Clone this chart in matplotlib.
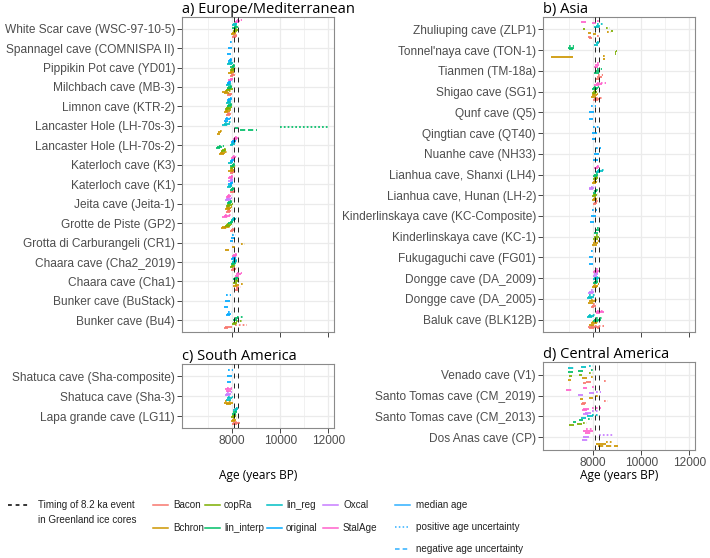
import matplotlib
matplotlib.use("Agg")
import matplotlib.pyplot as plt
from matplotlib.lines import Line2D

# methods, bottom -> top order inside each cave band
methods = ["Bacon", "Bchron", "copRa", "lin_interp", "lin_reg", "original", "Oxcal", "StalAge"]
method_colors = ["#F8766D", "#CD9600", "#7CAE00", "#00BE67", "#00BFC4", "#00A9FF", "#C77CFF", "#FF61CC"]
event_start, event_end = 8090, 8250   # Greenland 8.2 ka event (years BP)

# rows: method, median (lo, hi), positive (lo, hi), negative (lo, hi)
white_scar = [("Bacon", 8050, 8200, 8100, 8260, 8000, 8150), ("Bchron", 8000, 8150, 8050, 8220, 7950, 8100),
              ("copRa", 8080, 8250, 8120, 8300, 8030, 8200), ("lin_interp", 8060, 8240, 8100, 8280, 8000, 8180),
              ("lin_reg", 8050, 8200, 8100, 8250, 8000, 8150), ("StalAge", 8150, 8330, 8200, 8400, 8100, 8280)]
spannagel = [("original", 7850, 7980, 7900, 8020, 7800, 7940)]
pippikin = [("Bacon", 7950, 8100, 8000, 8150, 7900, 8050), ("Bchron", 7900, 8080, 7950, 8120, 7850, 8000),
            ("copRa", 7950, 8120, 8000, 8160, 7900, 8060), ("lin_interp", 7980, 8100, 8020, 8150, 7920, 8060),
            ("lin_reg", 7850, 8020, 7900, 8060, 7800, 7980), ("original", 7880, 8000, 7920, 8050, 7830, 7960)]
milchbach = [("Bacon", 7850, 8000, 7900, 8050, 7800, 7950), ("Bchron", 7600, 7850, 7700, 7950, 7650, 7900),
             ("copRa", 7800, 7980, 7850, 8030, 7750, 7930), ("lin_interp", 7850, 8000, 7900, 8050, 7780, 7950),
             ("lin_reg", 7800, 7950, 7850, 8000, 7750, 7900), ("original", 7820, 7970, 7870, 8020, 7770, 7920),
             ("StalAge", 7900, 8050, 7950, 8100, 7850, 8000)]
limnon = [("Bacon", 7800, 7950, 7850, 8000, 7750, 7900), ("Bchron", 7700, 7900, 7750, 7950, 7650, 7850),
          ("copRa", 7750, 7950, 7800, 8000, 7700, 7900), ("lin_interp", 7850, 8000, 7900, 8050, 7800, 7950),
          ("lin_reg", 7800, 7950, 7850, 8000, 7750, 7900), ("original", 7850, 8000, 7900, 8050, 7800, 7950)]
lancaster_3 = [("Bchron", 7420, 7550, 7500, 7640, 7380, 7500), ("lin_interp", 8100, 8250, 10000, 12000, 8330, 9040),
               ("lin_reg", 7650, 7900, 7700, 7950, 7600, 7850), ("original", 7700, 7900, 7750, 7950, 7650, 7850)]
lancaster_2 = [("Bchron", 7500, 7700, 7550, 7800, 7450, 7650), ("copRa", 7600, 7750, 7650, 7800, 7550, 7700),
               ("lin_interp", 7380, 7580, 7450, 7650, 7350, 7500), ("lin_reg", 7950, 8100, 8000, 8150, 7900, 8050),
               ("original", 8000, 8150, 8050, 8200, 7950, 8100), ("StalAge", 8080, 8250, 8120, 8300, 8050, 8200)]
katerloch_k3 = [("Bacon", 7950, 8100, 8000, 8150, 7900, 8050), ("Bchron", 7900, 8080, 7950, 8120, 7850, 8020),
                ("copRa", 7950, 8100, 8000, 8150, 7900, 8050), ("lin_interp", 7980, 8120, 8020, 8160, 7930, 8080),
                ("lin_reg", 7900, 8050, 7950, 8100, 7850, 8000), ("original", 7950, 8080, 8000, 8120, 7900, 8030),
                ("StalAge", 8000, 8150, 8050, 8200, 7950, 8100)]
katerloch_k1 = [("Bacon", 7950, 8100, 8000, 8150, 7900, 8050), ("lin_interp", 7950, 8080, 8000, 8120, 7900, 8030),
                ("lin_reg", 7850, 8000, 7900, 8050, 7800, 7950), ("original", 7900, 8050, 7950, 8100, 7850, 8000),
                ("Oxcal", 7900, 8050, 7950, 8100, 7850, 8000), ("StalAge", 7880, 8050, 7950, 8120, 7820, 7980)]
jeita = [("Bacon", 7800, 7950, 7850, 8000, 7750, 7900), ("Bchron", 7750, 7950, 7800, 8000, 7700, 7900),
         ("copRa", 7800, 7980, 7850, 8030, 7750, 7930), ("lin_interp", 7850, 8000, 7900, 8050, 7800, 7950),
         ("Oxcal", 7750, 7950, 7800, 8000, 7700, 7900), ("StalAge", 7800, 7950, 7850, 8000, 7750, 7900)]
grotte_piste = [("Bacon", 7950, 8100, 8000, 8150, 7900, 8050), ("Bchron", 7600, 7850, 7650, 7900, 7550, 7800),
                ("copRa", 7750, 7950, 7800, 8000, 7700, 7900), ("lin_interp", 7900, 8050, 7950, 8100, 7850, 8000),
                ("lin_reg", 8000, 8150, 8050, 8200, 7950, 8100), ("StalAge", 7650, 7900, 7700, 7950, 7600, 7850)]
carburangeli = [("Bchron", 8000, 8100, 8370, 8540, 7710, 7870), ("original", 7950, 8100, 8000, 8150, 7900, 8050)]
chaara_2019 = [("Bacon", 8000, 8150, 8050, 8200, 7950, 8100), ("copRa", 7950, 8100, 8000, 8150, 7900, 8050),
               ("lin_interp", 8000, 8150, 8050, 8200, 7950, 8100), ("lin_reg", 8050, 8200, 8100, 8250, 8000, 8150),
               ("original", 8000, 8150, 8050, 8200, 7950, 8100), ("StalAge", 8050, 8200, 8100, 8250, 8000, 8150)]
chaara_1 = [("Bacon", 8150, 8300, 8200, 8350, 8100, 8250), ("Bchron", 8100, 8300, 8350, 8450, 8050, 8200),
            ("copRa", 8100, 8250, 8150, 8300, 8050, 8200), ("lin_interp", 8100, 8250, 8150, 8300, 8050, 8200),
            ("StalAge", 8150, 8350, 8200, 8400, 8100, 8300)]
bunker_stack = [("original", 7700, 7900, 7750, 7950, 7650, 7850)]
bunker_bu4 = [("Bacon", 7700, 8000, 8100, 8600, 7650, 7850), ("copRa", 8050, 8200, 8150, 8450, 8000, 8150),
              ("lin_interp", 8100, 8250, 8200, 8500, 8050, 8200), ("original", 7800, 7950, 7850, 8000, 7750, 7900)]

zhuliuping = [("Bacon", 7800, 7900, 8150, 8250, 7850, 7950), ("Bchron", 7780, 7920, 8580, 8750, 8000, 8100),
              ("copRa", 7600, 7660, 8540, 8700, 8750, 8830), ("lin_reg", 8100, 8300, 8150, 8420, 8050, 8250),
              ("StalAge", 7500, 7700, 8150, 8300, 7950, 8100)]
tonnelnaya = [("Bchron", 6250, 7150, 8400, 8540, 8420, 8500), ("copRa", 8900, 8960, 8930, 8980, 8900, 8950),
              ("lin_interp", 6960, 7210, 6980, 7200, 7000, 7150), ("lin_reg", 8100, 8250, 8150, 8300, 8050, 8200)]
tianmen = [("Bacon", 8150, 8350, 8200, 8400, 8100, 8300), ("lin_interp", 8100, 8300, 8150, 8350, 8050, 8250),
           ("StalAge", 8080, 8250, 8150, 8300, 8050, 8200)]
shigao = [("Bacon", 8050, 8300, 8100, 8350, 8000, 8250), ("Bchron", 7950, 8150, 8000, 8200, 7900, 8100),
          ("copRa", 8000, 8150, 8050, 8200, 7950, 8100), ("lin_interp", 8000, 8200, 8050, 8250, 7950, 8150),
          ("StalAge", 8100, 8350, 8150, 8550, 8050, 8300)]
qunf = [("original", 7850, 8050, 7900, 8130, 7840, 8000)]
qingtian = [("original", 7960, 8150, 8000, 8250, 7950, 8100)]
nuanhe = [("original", 8040, 8250, 8100, 8330, 8000, 8200)]
lianhua_shanxi = [("Bchron", 8000, 8150, 8050, 8200, 7950, 8100), ("copRa", 8050, 8200, 8100, 8250, 8000, 8150),
                  ("lin_interp", 8050, 8200, 8100, 8250, 8000, 8150), ("lin_reg", 8150, 8400, 8200, 8460, 8100, 8300),
                  ("StalAge", 8100, 8250, 8150, 8300, 8050, 8200)]
lianhua_hunan = [("Bacon", 8050, 8150, 8100, 8200, 8000, 8100), ("Bchron", 8000, 8150, 8050, 8200, 7950, 8100),
                 ("copRa", 8000, 8150, 8050, 8200, 7950, 8100), ("lin_interp", 8050, 8150, 8100, 8200, 8000, 8100),
                 ("Oxcal", 7850, 8050, 7900, 8100, 7850, 8000)]
kinderlinskaya_comp = [("original", 7900, 8100, 7950, 8150, 7880, 8050)]
kinderlinskaya_1 = [("Bchron", 8000, 8200, 8050, 8250, 7950, 8150), ("copRa", 8050, 8250, 8100, 8300, 8000, 8200),
                    ("lin_interp", 8100, 8250, 8150, 8300, 8050, 8200)]
fukugaguchi = [("original", 7850, 8000, 7900, 8040, 7830, 7980)]
dongge_2009 = [("Bchron", 8000, 8200, 8050, 8250, 7950, 8150), ("lin_interp", 8050, 8200, 8100, 8250, 8000, 8150),
               ("lin_reg", 8050, 8250, 8100, 8300, 8000, 8200), ("Oxcal", 8050, 8200, 8100, 8250, 8000, 8150),
               ("StalAge", 8050, 8250, 8100, 8300, 8000, 8200)]
dongge_2005 = [("Bacon", 7950, 8100, 8000, 8150, 7900, 8050), ("Bchron", 7850, 8100, 7900, 8150, 7800, 8050),
               ("lin_reg", 7800, 8050, 7850, 8100, 7750, 8000), ("Oxcal", 7850, 8050, 7900, 8100, 7800, 8000)]
baluk = [("Bacon", 7800, 8300, 7900, 8450, 7850, 8250), ("Bchron", 7900, 8150, 7950, 8200, 7850, 8100),
         ("lin_interp", 8050, 8330, 8100, 8350, 8000, 8250), ("lin_reg", 7800, 8050, 7850, 8100, 7750, 8000),
         ("StalAge", 8120, 8450, 8150, 8400, 8100, 8300)]

shatuca_comp = [("original", 7800, 8000, 7850, 8050, 7780, 7950)]
shatuca_3 = [("Bchron", 7650, 8040, 7700, 8000, 7750, 7950), ("lin_reg", 7800, 8000, 7850, 8050, 7750, 7950),
             ("Oxcal", 7750, 7950, 7800, 8000, 7700, 7900), ("StalAge", 7700, 8000, 7790, 7990, 7750, 7950)]
lapa_grande = [("Bacon", 8050, 8330, 8100, 8300, 8000, 8200), ("Bchron", 8000, 8150, 8050, 8200, 7950, 8100),
               ("copRa", 8000, 8150, 8050, 8200, 7950, 8100), ("lin_interp", 8050, 8200, 8100, 8250, 8000, 8150),
               ("lin_reg", 8100, 8250, 8150, 8300, 8050, 8200)]

venado = [("Bacon", 7700, 7920, 8460, 8580, 7600, 7700), ("Bchron", 7550, 7750, 7900, 8000, 6950, 7100),
          ("copRa", 7400, 7550, 7850, 7980, 7000, 7120), ("lin_interp", 7370, 7580, 7900, 8020, 6960, 7150),
          ("lin_reg", 7500, 7700, 7830, 8000, 6960, 7210)]
santo_tomas_2019 = [("Bacon", 7550, 7700, 8450, 8620, 7500, 7650), ("Bchron", 7850, 8000, 8100, 8200, 7450, 7600),
                    ("Oxcal", 7850, 8050, 8120, 8330, 7370, 7580), ("StalAge", 7600, 7750, 7950, 8100, 6880, 7170)]
santo_tomas_2013 = [("copRa", 7350, 7550, 7600, 7750, 7000, 7200), ("lin_interp", 7400, 7600, 7800, 7950, 7150, 7300),
                    ("lin_reg", 7750, 8000, 7950, 8200, 7500, 7700), ("Oxcal", 7650, 7900, 7950, 8250, 7600, 7850),
                    ("StalAge", 7600, 7850, 7950, 8330, 7550, 7750)]
dos_anas = [("Bchron", 8100, 8550, 8550, 8830, 8200, 9040), ("Oxcal", 7600, 7850, 8250, 8830, 7550, 7800),
            ("StalAge", 7580, 8000, 7700, 8000, 7650, 7950)]

europe_caves = ["White Scar cave (WSC-97-10-5)", "Spannagel cave (COMNISPA II)", "Pippikin Pot cave (YD01)",
                "Milchbach cave (MB-3)", "Limnon cave (KTR-2)", "Lancaster Hole (LH-70s-3)", "Lancaster Hole (LH-70s-2)",
                "Katerloch cave (K3)", "Katerloch cave (K1)", "Jeita cave (Jeita-1)", "Grotte de Piste (GP2)",
                "Grotta di Carburangeli (CR1)", "Chaara cave (Cha2_2019)", "Chaara cave (Cha1)",
                "Bunker cave (BuStack)", "Bunker cave (Bu4)"]
europe_data = [white_scar, spannagel, pippikin, milchbach, limnon, lancaster_3, lancaster_2, katerloch_k3,
               katerloch_k1, jeita, grotte_piste, carburangeli, chaara_2019, chaara_1, bunker_stack, bunker_bu4]
asia_caves = ["Zhuliuping cave (ZLP1)", "Tonnel'naya cave (TON-1)", "Tianmen (TM-18a)", "Shigao cave (SG1)",
              "Qunf cave (Q5)", "Qingtian cave (QT40)", "Nuanhe cave (NH33)", "Lianhua cave, Shanxi (LH4)",
              "Lianhua cave, Hunan (LH-2)", "Kinderlinskaya cave (KC-Composite)", "Kinderlinskaya cave (KC-1)",
              "Fukugaguchi cave (FG01)", "Dongge cave (DA_2009)", "Dongge cave (DA_2005)", "Baluk cave (BLK12B)"]
asia_data = [zhuliuping, tonnelnaya, tianmen, shigao, qunf, qingtian, nuanhe, lianhua_shanxi, lianhua_hunan,
             kinderlinskaya_comp, kinderlinskaya_1, fukugaguchi, dongge_2009, dongge_2005, baluk]
south_caves = ["Shatuca cave (Sha-composite)", "Shatuca cave (Sha-3)", "Lapa grande cave (LG11)"]
south_data = [shatuca_comp, shatuca_3, lapa_grande]
central_caves = ["Venado cave (V1)", "Santo Tomas cave (CM_2019)", "Santo Tomas cave (CM_2013)", "Dos Anas cave (CP)"]
central_data = [venado, santo_tomas_2019, santo_tomas_2013, dos_anas]

kind_styles = {"neg": (0, (3, 1.6)), "med": "solid", "pos": (0, (1, 1.2))}
TICK_FONT = "Liberation Sans"
TITLE_FONT = "Open Sans"
W, H = 710, 558


def px_rect(left, top, right, bottom):
    return [left / W, 1 - bottom / H, (right - left) / W, (bottom - top) / H]


def draw_panel(ax, title, caves, data, xlabels):
    n = len(caves)
    for i, rows in enumerate(data):
        yc = n - i
        rows = sorted(rows, key=lambda r: methods.index(r[0]))
        groups = []
        for r in rows:
            for kind, lo, hi in (("neg", r[5], r[6]), ("med", r[1], r[2]), ("pos", r[3], r[4])):
                groups.append((r[0], kind, lo, hi))
        ng = len(groups)
        for j, (m, kind, lo, hi) in enumerate(groups):
            y = yc - 0.45 + (j + 0.5) * 0.9 / ng
            ax.hlines(y, lo, hi, colors=method_colors[methods.index(m)],
                      linestyles=[kind_styles[kind]], lw=1.25, zorder=3)
    for xv in (event_start, event_end):
        ax.axvline(xv, color="black", lw=0.6, ls=(0, (6, 6)), zorder=4)
    ax.set_xlim(5920, 12230)
    ax.set_ylim(0.4, n + 0.6)
    ax.set_xticks([8000, 10000, 12000])
    ax.set_xticks([7000, 9000, 11000], minor=True)
    ax.set_yticks(range(n, 0, -1))
    ax.set_yticklabels(caves, fontsize=8.6, color="#4D4D4D", family=TICK_FONT)
    if xlabels:
        ax.set_xticklabels(["8000", "10000", "12000"], fontsize=8.6, color="#4D4D4D", family=TICK_FONT)
    else:
        ax.set_xticklabels([])
    ax.tick_params(which="major", length=3.5, width=0.7, color="#444444", pad=1.5)
    ax.tick_params(which="minor", length=0)
    ax.grid(which="major", color="#EBEBEB", lw=0.9)
    ax.grid(which="minor", axis="x", color="#EBEBEB", lw=0.5)
    ax.set_axisbelow(True)
    for s in ax.spines.values():
        s.set_color("#8A8A8A")
        s.set_linewidth(0.8)
    ax.set_title(title, loc="left", fontsize=10.5, family=TITLE_FONT, pad=1.5)


fig = plt.figure(figsize=(7.1, 5.58), dpi=100)
ax_a = fig.add_axes(px_rect(182, 17, 334, 332))
ax_b = fig.add_axes(px_rect(543, 17, 695, 332))
ax_c = fig.add_axes(px_rect(182, 364, 334, 428))
ax_d = fig.add_axes(px_rect(543, 362, 695, 450))
draw_panel(ax_a, "a) Europe/Mediterranean", europe_caves, europe_data, False)
draw_panel(ax_b, "b) Asia", asia_caves, asia_data, False)
draw_panel(ax_c, "c) South America", south_caves, south_data, True)
draw_panel(ax_d, "d) Central America", central_caves, central_data, True)

for xc in ((182 + 334) / 2, (543 + 695) / 2):
    fig.text(xc / W, 1 - 476 / H, "Age (years BP)", ha="center", va="center", fontsize=8.6, family=TITLE_FONT)

# legend, drawn in figure pixels
def key(x0, x1, y, color, ls, lw=1.1):
    fig.add_artist(Line2D([x0 / W, x1 / W], [1 - y / H, 1 - y / H], color=color, ls=ls, lw=lw,
                          transform=fig.transFigure))


def label(x, y, s):
    fig.text(x / W, 1 - y / H, s, ha="left", va="center", fontsize=7.1, family=TICK_FONT, color="#222222")


key(8, 29, 505, "black", (0, (2.5, 2.5)))
label(38, 505, "Timing of 8.2 ka event")
label(38, 520, "in Greenland ice cores")
col_x = [153, 205, 267, 323]
text_x = [173, 224, 286, 343]
for k, m in enumerate(methods):
    c, r = k // 2, k % 2
    y = 505 + 23 * r
    key(col_x[c], col_x[c] + 15, y, method_colors[k], "solid")
    label(text_x[c], y, m)
lt_labels = ["median age", "positive age uncertainty", "negative age uncertainty"]
lt_styles = ["solid", (0, (1, 1.5)), (0, (3, 2))]
for k, (s, ls) in enumerate(zip(lt_labels, lt_styles)):
    y = 505 + 22 * k
    key(395, 410, y, "#2FB0FF", ls)
    label(416, y, s)

fig.savefig("out.png", dpi=100)
